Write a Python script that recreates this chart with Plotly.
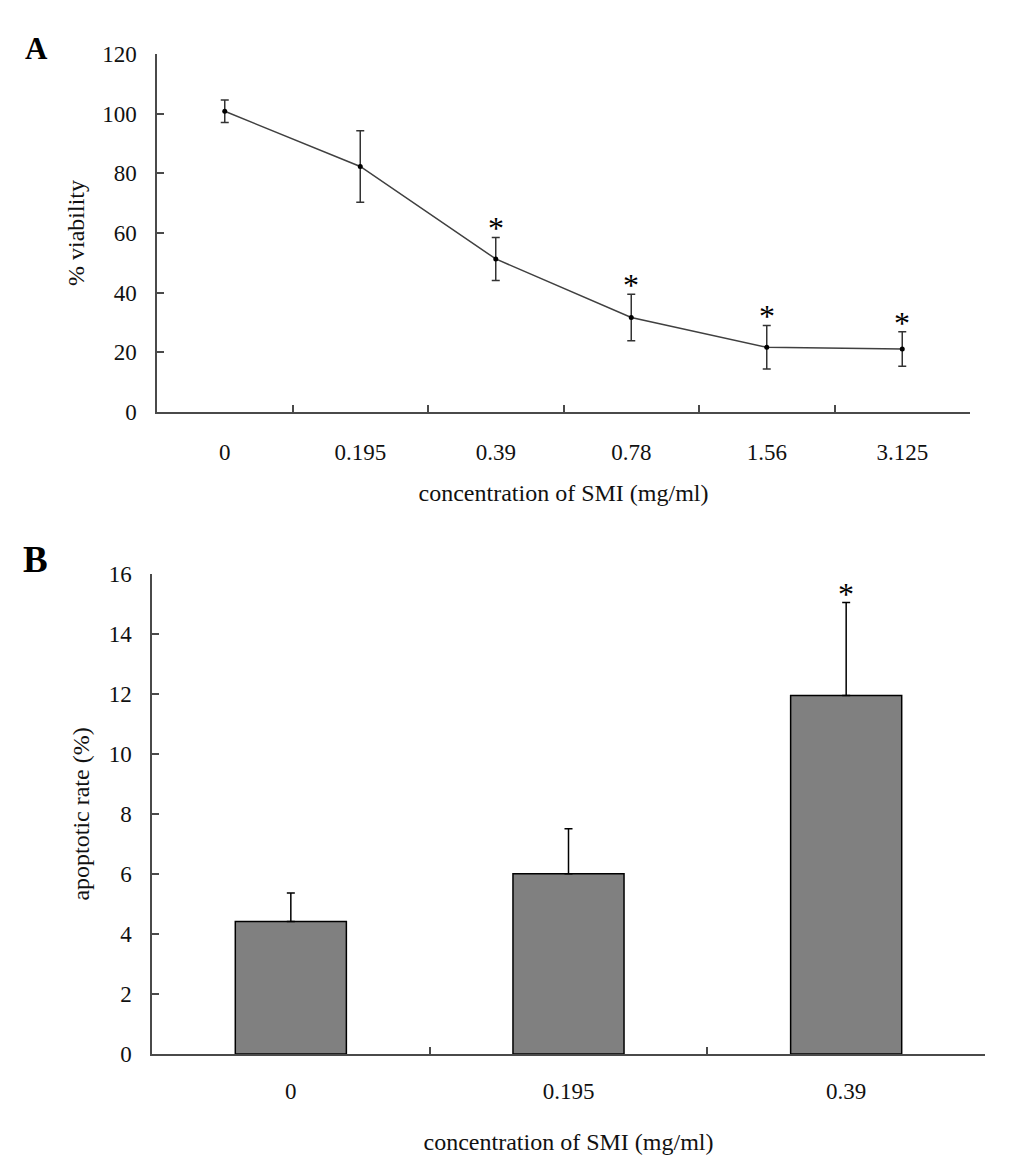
import plotly.graph_objects as go

# panel A - cell viability
conc_a = ['0', '0.195', '0.39', '0.78', '1.56', '3.125']
viability = [100.8, 82.3, 51.3, 31.7, 21.7, 21.1]
viability_err = [3.8, 12.0, 7.2, 7.8, 7.3, 5.8]
sig_a = [False, False, True, True, True, True]

# panel B - apoptotic rate
conc_b = ['0', '0.195', '0.39']
apoptosis = [4.42, 6.01, 11.95]
apoptosis_err = [0.95, 1.5, 3.1]
sig_b = [False, False, True]

serif = 'Liberation Serif, Times New Roman, serif'
axis_col = '#4a4a4a'
W, H = 1033, 1165
OFF = 8  # page body margin


def px_x(p):
    return (p - OFF) / W


def px_y(p):
    return 1 - (p - OFF) / H


fig = go.Figure()

fig.add_trace(go.Scatter(
    x=conc_a, y=viability, mode='lines+markers',
    line=dict(color='#404040', width=1.5),
    marker=dict(color='black', size=5),
    error_y=dict(type='data', array=viability_err, visible=True,
                 color='#333333', thickness=1.5, width=4),
    xaxis='x', yaxis='y', showlegend=False, cliponaxis=False,
))

fig.add_trace(go.Bar(
    x=conc_b, y=apoptosis, width=0.4,
    marker=dict(color='#808080', line=dict(color='black', width=1.5)),
    error_y=dict(type='data', array=apoptosis_err, arrayminus=[0] * 3,
                 symmetric=False, visible=True,
                 color='black', thickness=1.5, width=4),
    xaxis='x2', yaxis='y2', showlegend=False,
))

# significance asterisks sit just above the error bar tops
# (category axes: annotation x is the category index)
stars = []
for vals, errs, sig, xr, yr in [
    (viability, viability_err, sig_a, 'x', 'y'),
    (apoptosis, apoptosis_err, sig_b, 'x2', 'y2'),
]:
    for i, (v, e, s) in enumerate(zip(vals, errs, sig)):
        if s:
            stars.append(dict(text='*', x=i, y=v + e, xref=xr, yref=yr,
                              xanchor='center', yanchor='middle', yshift=9,
                              showarrow=False,
                              font=dict(family=serif, size=32, color='black')))

xcommon = dict(type='category', showline=True, linecolor=axis_col, linewidth=1.5,
               ticks='inside', tickson='boundaries', ticklen=7, tickwidth=1.5,
               tickcolor=axis_col, showgrid=False, zeroline=False, automargin=False,
               tickfont=dict(family=serif, size=23, color='#111'))
ycommon = dict(showline=True, linecolor=axis_col, linewidth=1.5,
               ticks='inside', ticklen=7, tickwidth=1.5, tickcolor=axis_col,
               showgrid=False, zeroline=False, automargin=False,
               tickfont=dict(family=serif, size=23, color='#111'),
               ticklabelstandoff=14)

fig.update_layout(
    width=W, height=H,
    margin=dict(l=0, r=0, t=0, b=0),
    paper_bgcolor='white', plot_bgcolor='white',
    xaxis=dict(xcommon, domain=[px_x(157), px_x(970)], anchor='y', range=[-0.5, 5.5],
               ticklabelstandoff=19,
               title=dict(text='concentration of SMI (mg/ml)', standoff=20,
                          font=dict(family=serif, size=24, color='#111'))),
    yaxis=dict(ycommon, domain=[px_y(412), px_y(54)], anchor='x', range=[0, 120],
               dtick=20,
               title=dict(text='% viability', standoff=11,
                          font=dict(family=serif, size=24, color='#111'))),
    xaxis2=dict(xcommon, domain=[px_x(152), px_x(985)], anchor='y2', range=[-0.5, 2.5],
                ticklabelstandoff=16,
                title=dict(text='concentration of SMI (mg/ml)', standoff=30,
                           font=dict(family=serif, size=24, color='#111'))),
    yaxis2=dict(ycommon, domain=[px_y(1054), px_y(574)], anchor='x2', range=[0, 16],
                dtick=2,
                title=dict(text='apoptotic rate (%)', standoff=12,
                           font=dict(family=serif, size=24, color='#111'))),
    annotations=stars + [
        dict(text='<b>A</b>', x=px_x(36), y=px_y(48), xref='paper', yref='paper',
             xanchor='center', yanchor='middle', showarrow=False,
             font=dict(family=serif, size=31, color='black')),
        dict(text='<b>B</b>', x=px_x(35), y=px_y(559), xref='paper', yref='paper',
             xanchor='center', yanchor='middle', showarrow=False,
             font=dict(family=serif, size=37, color='black')),
    ],
)

fig.write_html('out.html')
